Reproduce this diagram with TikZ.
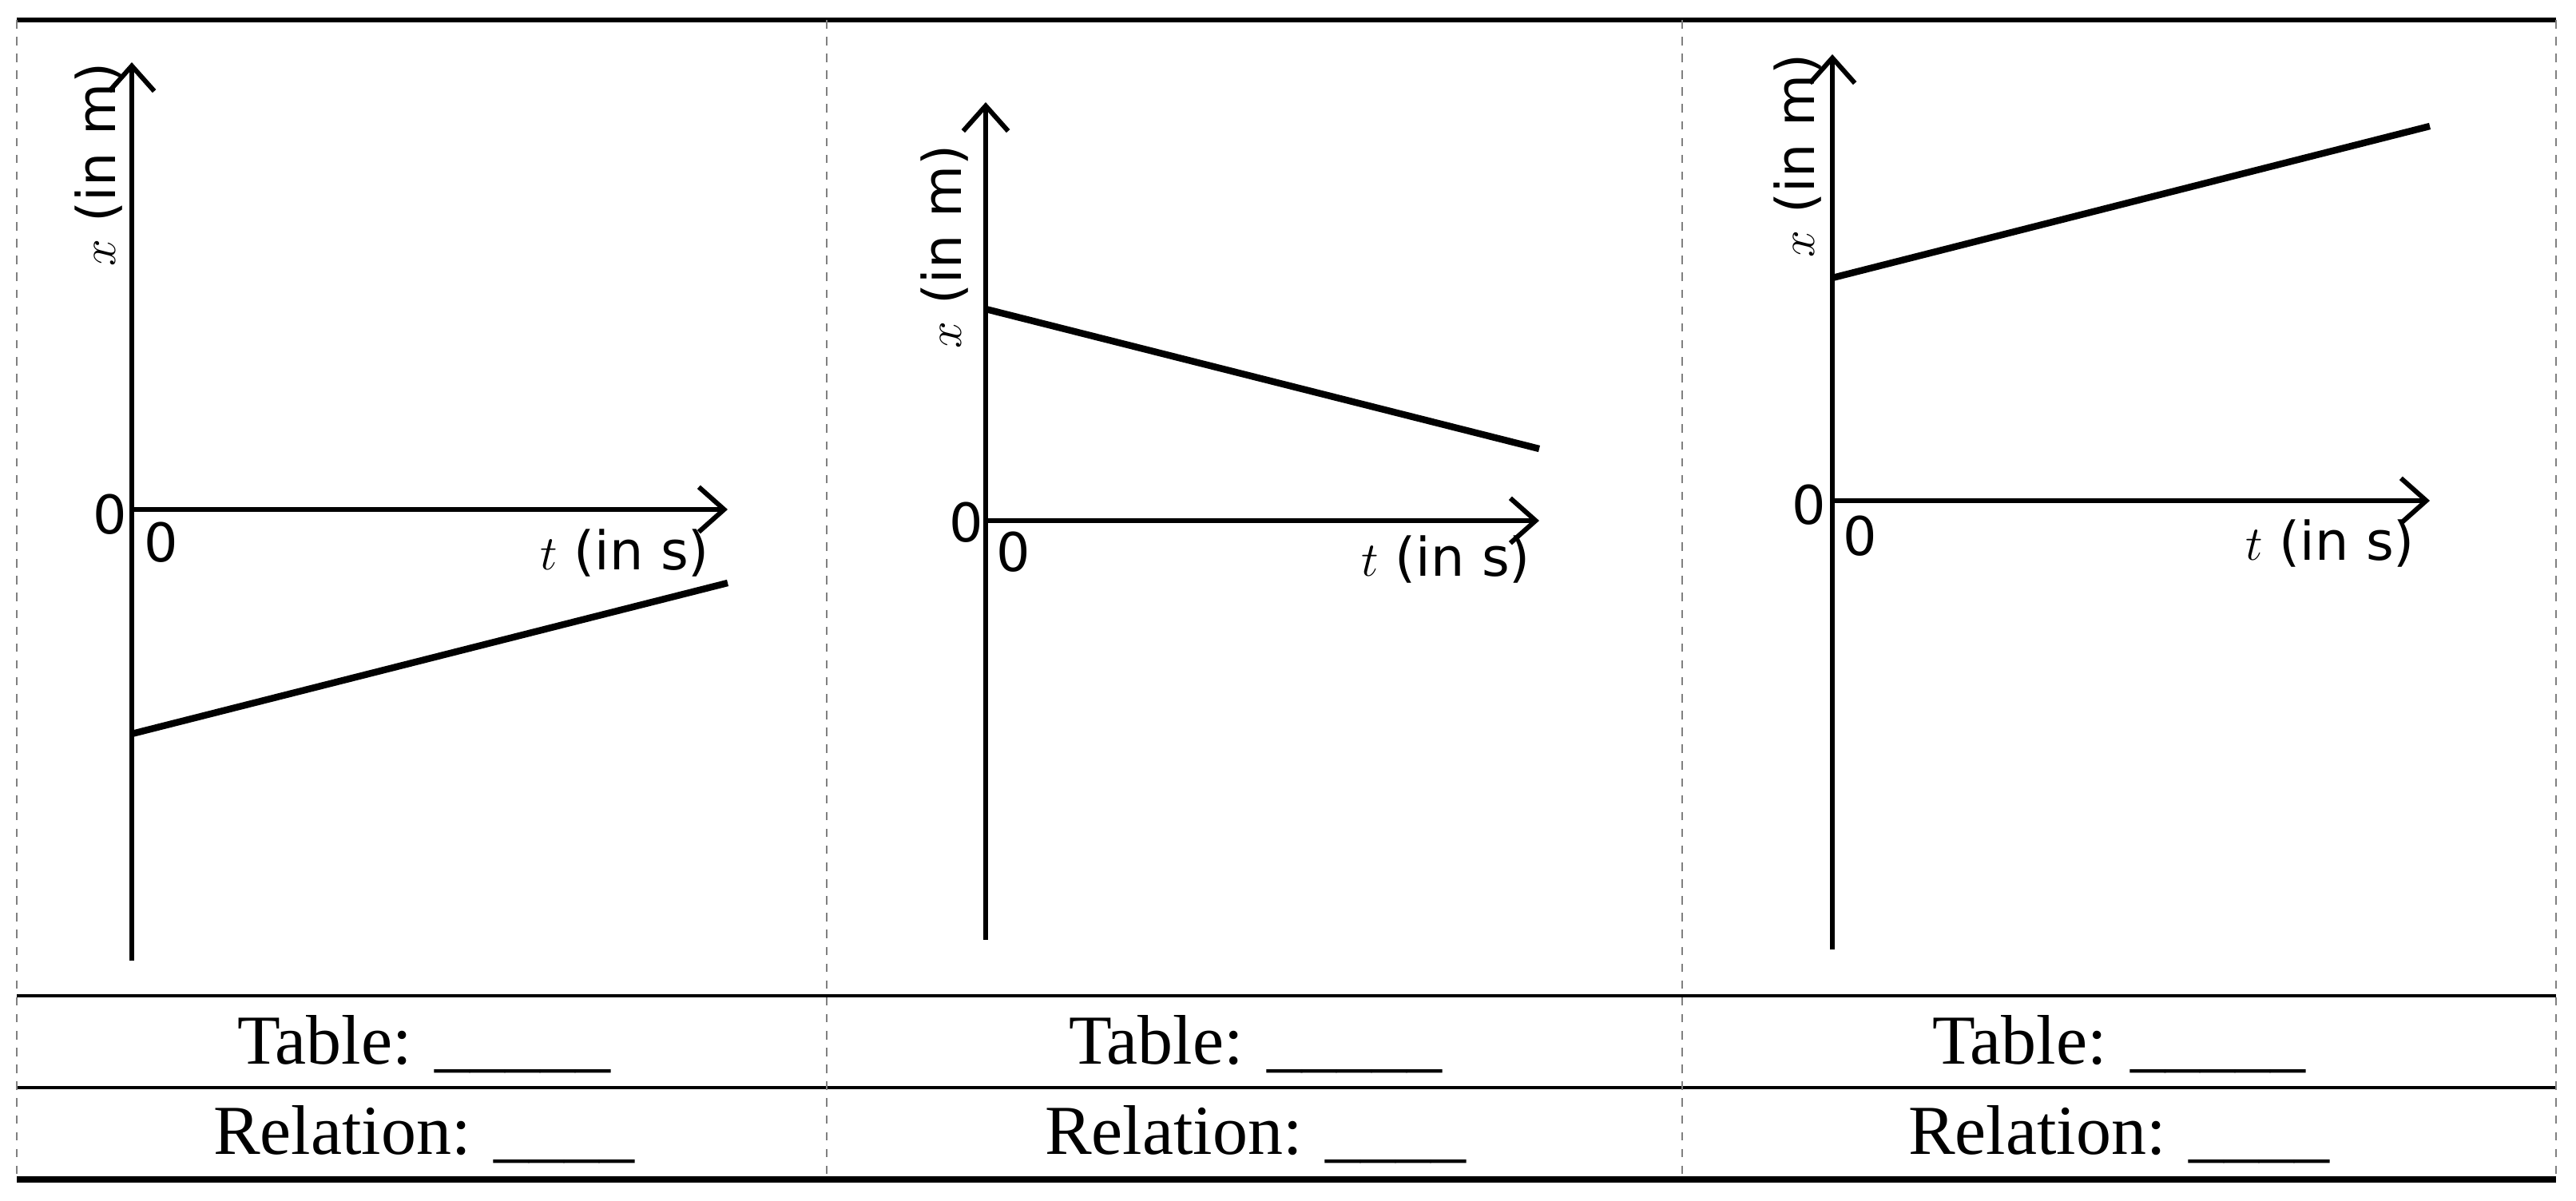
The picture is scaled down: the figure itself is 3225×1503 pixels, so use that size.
\documentclass[tikz,border=0pt]{standalone}
\usepackage{fontspec}
\setmainfont{Liberation Serif}
\newfontfamily\axfont{DejaVu Sans}
\usetikzlibrary{arrows.meta}
\begin{document}
\begin{tikzpicture}[x=0.01cm,y=-0.01cm,
  axis/.style={line width=1.7pt,-{Straight Barb[length=9pt,width=16pt,line width=1.7pt]}},
  plotline/.style={line width=2.4pt},
  lab/.style={font=\axfont\fontsize{19}{22}\selectfont,inner sep=0pt},
  cell/.style={font=\fontsize{25}{30}\selectfont,inner sep=0pt},
  sep/.style={gray,dashed,line width=0.5pt}]
\useasboundingbox (0,0) rectangle (3225,1503);
% table frame
\draw[line width=1.8pt] (21,25) -- (3200,25);
\draw[line width=1pt] (21,1247) -- (3200,1247);
\draw[line width=1pt] (21,1362) -- (3200,1362);
\draw[line width=2.4pt] (21,1477) -- (3200,1477);
\foreach \xx in {21,1035,2106,3200} \draw[sep] (\xx,25) -- (\xx,1477);
% panel 1
\coordinate (o1) at (165,638);
\coordinate (yb1) at (165,1203);
\coordinate (yt1) at (165,78);
\coordinate (xe1) at (911,638);
\draw[axis] (yb1) -- (yt1);
\draw[axis] (o1) -- (xe1);
\coordinate (a1) at (165,919); \coordinate (b1) at (911,730);
\draw[plotline] (a1) -- (b1);
\node[lab] (z1a) at (138,644) {0};
\node[lab] (z1b) at (202,679) {0};
\node[lab] (t1) at (782,693) {$t$ (in s)};
\node[lab,rotate=90] (x1) at (124,206) {$x$ (in m)};
% panel 2
\coordinate (o2) at (1234,652);
\coordinate (yb2) at (1234,1177);
\coordinate (yt2) at (1234,128);
\coordinate (xe2) at (1927,652);
\draw[axis] (yb2) -- (yt2);
\draw[axis] (o2) -- (xe2);
\coordinate (a2) at (1234,387); \coordinate (b2) at (1927,562);
\draw[plotline] (a2) -- (b2);
\node[lab] (z2a) at (1210,654) {0};
\node[lab] (z2b) at (1269,691) {0};
\node[lab] (t2) at (1810,701) {$t$ (in s)};
\node[lab,rotate=90] (x2) at (1183,309) {$x$ (in m)};
% panel 3
\coordinate (o3) at (2294,627);
\coordinate (yb3) at (2294,1189);
\coordinate (yt3) at (2294,68);
\coordinate (xe3) at (3042,627);
\draw[axis] (yb3) -- (yt3);
\draw[axis] (o3) -- (xe3);
\coordinate (a3) at (2294,348); \coordinate (b3) at (3042,158);
\draw[plotline] (a3) -- (b3);
\node[lab] (z3a) at (2265,632) {0};
\node[lab] (z3b) at (2329,671) {0};
\node[lab] (t3) at (2917,681) {$t$ (in s)};
\node[lab,rotate=90] (x3) at (2250,195) {$x$ (in m)};
% table cells
\foreach \cx/\nm in {531/a,1572/b,2653/c}{
  \node[cell] (tab\nm) at (\cx,1308) {Table: \_\_\_\_\_};
  \node[cell] (rel\nm) at (\cx,1421) {Relation: \_\_\_\_};
}
\end{tikzpicture}
\end{document}
